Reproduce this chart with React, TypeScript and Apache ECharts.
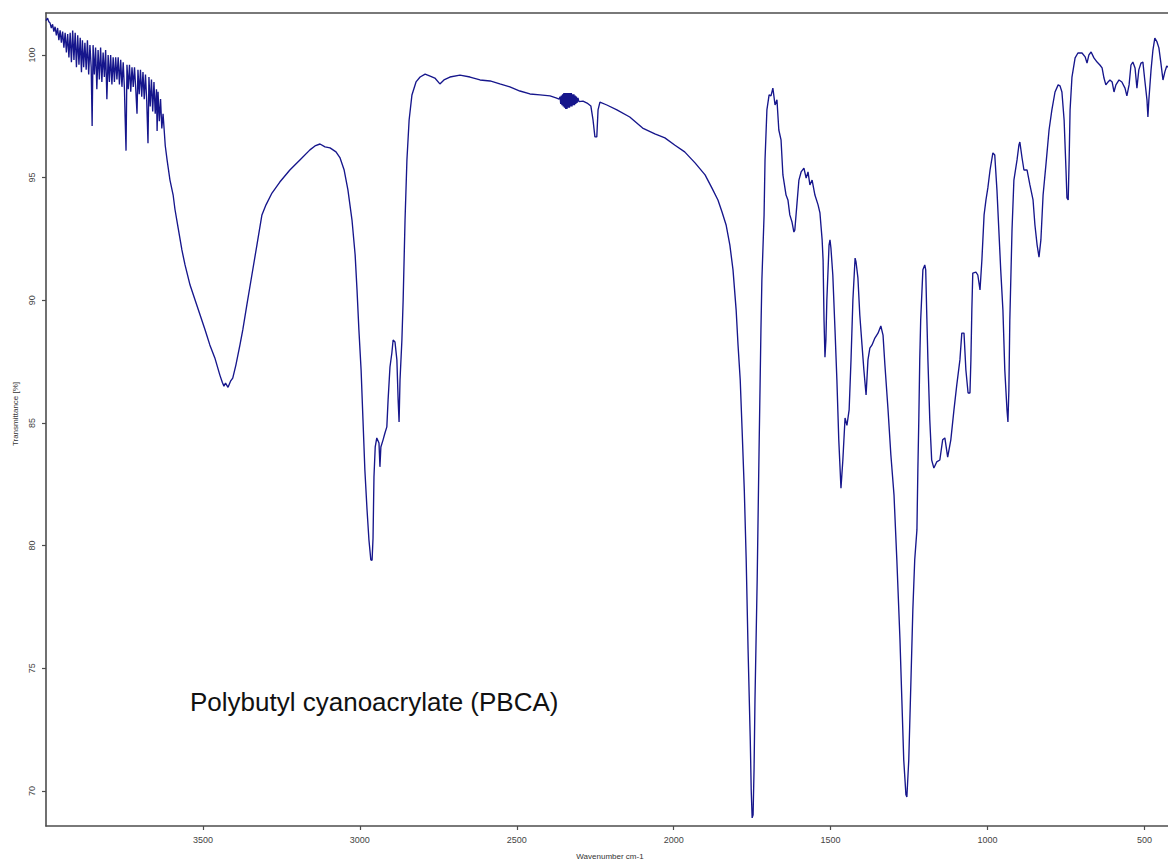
import React, { useEffect, useRef } from "react";
import * as echarts from "echarts";

// [wavenumber (cm-1), transmittance (%)]
const noisyRegion: [number, number][] = [
  [4000, 101.4], [3995, 101.5], [3991, 101.35], [3987, 101.3], [3983, 101.1], [3979, 101.25],
  [3975, 100.95], [3971, 101.15], [3967, 100.8], [3963, 101.1], [3959, 100.6], [3955, 101.0],
  [3951, 100.5], [3947, 100.95], [3943, 100.3], [3939, 100.9], [3935, 100.1], [3931, 100.85],
  [3927, 99.9], [3923, 100.9], [3919, 99.7], [3915, 101.0], [3911, 99.8], [3907, 100.9],
  [3903, 99.5], [3899, 100.8], [3895, 99.6], [3891, 100.7], [3887, 99.3], [3884, 100.6],
  [3880, 99.5], [3876, 100.5], [3872, 99.4], [3868, 100.6], [3864, 99.2], [3860, 100.4],
  [3856, 99.5], [3853, 97.1], [3850, 100.4], [3846, 99.2], [3842, 100.3], [3838, 98.6],
  [3834, 100.2], [3830, 99.0], [3826, 100.3], [3822, 98.9], [3818, 100.1], [3814, 99.1],
  [3810, 100.2], [3806, 98.2], [3802, 100.0], [3798, 98.9], [3794, 100.0], [3790, 98.8],
  [3786, 99.9], [3782, 98.9], [3778, 99.9], [3774, 99.0], [3770, 99.9], [3766, 98.8],
  [3762, 99.8], [3758, 98.7], [3754, 99.7], [3750, 98.6], [3748, 97.5], [3745, 96.1],
  [3742, 99.6], [3738, 98.6], [3734, 99.6], [3730, 98.5], [3726, 99.5], [3722, 98.7],
  [3718, 99.5], [3714, 98.6], [3710, 97.6], [3707, 99.4], [3703, 98.4], [3699, 99.4],
  [3695, 98.3], [3691, 99.3], [3687, 98.2], [3683, 99.2], [3679, 98.1], [3675, 96.4],
  [3672, 99.1], [3668, 97.9], [3664, 99.0], [3660, 97.7], [3656, 98.9], [3652, 97.6],
  [3648, 98.6], [3646, 96.9], [3643, 98.5], [3639, 97.3], [3635, 98.2], [3631, 97.0],
  [3627, 97.6],
];

const ohBand: [number, number][] = [
  [3620, 96.3], [3614, 95.7], [3605, 94.9], [3595, 94.3], [3589, 93.7], [3579, 92.95],
  [3567, 92.05], [3557, 91.44], [3541, 90.62], [3525, 90.01], [3509, 89.4], [3493, 88.79],
  [3478, 88.18], [3462, 87.65], [3446, 86.95], [3438, 86.65], [3433, 86.5], [3428, 86.62],
  [3420, 86.45], [3412, 86.7], [3405, 86.83], [3395, 87.36], [3382, 88.18], [3373, 88.79],
  [3360, 89.81], [3344, 91.03], [3328, 92.25], [3312, 93.48], [3299, 93.89], [3280, 94.37],
  [3255, 94.82], [3223, 95.31], [3191, 95.72], [3159, 96.13], [3143, 96.29], [3127, 96.37],
  [3111, 96.25], [3095, 96.21], [3076, 96.05], [3063, 95.8], [3050, 95.31],
];

const chBand: [number, number][] = [
  [3038, 94.5], [3025, 93.27], [3015, 91.85], [3009, 90.42], [3003, 88.79], [2996, 87.16],
  [2990, 85.12], [2984, 83.08], [2977, 81.44], [2971, 80.23], [2965, 79.42], [2961, 79.4],
  [2958, 80.3], [2955, 82.8], [2951, 84.02], [2946, 84.39], [2939, 84.18], [2936, 83.21],
  [2933, 84.02], [2926, 84.31], [2920, 84.59], [2914, 84.84], [2910, 85.94], [2904, 87.28],
  [2898, 87.85], [2894, 88.38], [2888, 88.3], [2882, 87.57], [2878, 85.94], [2875, 85.04],
  [2872, 86.75], [2866, 88.38], [2862, 90.01], [2856, 93.27], [2850, 95.72], [2843, 97.35],
  [2834, 98.37], [2821, 98.9], [2808, 99.1],
];

const plateau: [number, number][] = [
  [2792, 99.22], [2776, 99.14], [2761, 99.06], [2745, 98.82], [2732, 98.98], [2713, 99.1],
  [2681, 99.18], [2649, 99.1], [2617, 98.98], [2585, 98.94], [2554, 98.82], [2522, 98.7],
  [2490, 98.53], [2458, 98.41], [2426, 98.37], [2394, 98.33], [2375, 98.25], [2365, 98.2],
  [2362, 98.3], [2360, 98.0], [2358, 98.35], [2356, 97.95], [2354, 98.4], [2352, 97.9],
  [2350, 98.45], [2348, 97.85], [2346, 98.45], [2344, 97.8], [2342, 98.45], [2340, 97.8],
  [2338, 98.45], [2336, 97.85], [2334, 98.45], [2332, 97.85], [2330, 98.45], [2328, 97.9],
  [2326, 98.45], [2324, 97.9], [2322, 98.4], [2320, 97.95], [2318, 98.4], [2316, 97.95],
  [2314, 98.35], [2312, 98.0], [2310, 98.3], [2308, 98.05], [2305, 98.25], [2302, 98.1],
  [2289, 98.12], [2276, 98.04], [2264, 97.92], [2257, 97.35], [2251, 96.66], [2245, 96.66],
  [2241, 97.76], [2235, 98.08], [2213, 97.96], [2181, 97.76], [2140, 97.47], [2099, 97.02],
  [2060, 96.78], [2028, 96.62], [1997, 96.33], [1965, 96.05], [1932, 95.6], [1900, 95.11],
  [1878, 94.57], [1859, 94.09], [1846, 93.6], [1833, 93.07], [1821, 92.25], [1811, 91.24],
];

const carbonylBand: [number, number][] = [
  [1801, 89.6], [1795, 88.18], [1788, 86.75], [1782, 84.71], [1775, 82.25], [1769, 79.42],
  [1763, 75.75], [1756, 72.08], [1753, 70.04], [1750, 68.9], [1747, 69.03], [1744, 70.85],
  [1741, 73.71], [1734, 78.6], [1728, 83.9], [1722, 88.79], [1719, 90.83], [1712, 93.48],
  [1709, 95.72], [1703, 97.76], [1696, 98.37], [1690, 98.33], [1684, 98.65], [1677, 97.96],
  [1671, 98.17], [1665, 96.94], [1658, 96.54], [1652, 95.11], [1642, 94.29], [1636, 94.09],
  [1630, 93.48], [1623, 93.19], [1617, 92.78], [1614, 92.87], [1607, 93.97], [1601, 94.9],
  [1594, 95.23], [1585, 95.39], [1578, 94.98], [1572, 95.23], [1566, 94.7], [1559, 94.9],
  [1550, 94.29], [1540, 93.89], [1534, 93.56],
];

const fingerprint: [number, number][] = [
  [1527, 92.46], [1524, 91.64], [1521, 89.2], [1518, 87.68], [1515, 88.38], [1512, 90.01],
  [1505, 92.25], [1502, 92.46], [1499, 92.13], [1493, 91.03], [1486, 88.79], [1480, 86.75],
  [1474, 84.31], [1467, 82.34], [1461, 83.49], [1454, 85.2], [1448, 84.9], [1441, 85.53],
  [1435, 87.57], [1429, 90.01], [1422, 91.72], [1419, 91.56], [1413, 90.91], [1407, 89.4],
  [1400, 88.18], [1394, 87.16], [1387, 86.14], [1381, 87.57], [1375, 88.05], [1368, 88.18],
  [1359, 88.46], [1349, 88.66], [1340, 88.95], [1333, 88.58], [1327, 87.36], [1317, 85.53],
  [1308, 83.69], [1298, 82.06], [1289, 79.42], [1279, 76.15], [1273, 73.71], [1267, 71.26],
  [1260, 69.84], [1257, 69.75], [1251, 71.26], [1244, 74.52], [1238, 77.38], [1232, 79.42],
  [1225, 80.64], [1222, 83.08], [1219, 85.12], [1216, 87.57], [1213, 89.2], [1206, 91.24],
  [1200, 91.44], [1197, 91.24], [1194, 89.6], [1190, 87.57], [1184, 85.12], [1178, 83.49],
  [1171, 83.16], [1162, 83.41], [1152, 83.49], [1143, 84.31], [1136, 84.39], [1127, 83.61],
  [1117, 84.31], [1107, 85.53], [1098, 86.55], [1088, 87.57], [1082, 88.66], [1075, 88.66],
  [1069, 87.16], [1062, 86.22], [1056, 86.22], [1053, 87.57], [1050, 89.6], [1047, 91.11],
  [1037, 91.15], [1031, 91.03], [1024, 90.42], [1018, 91.64], [1011, 93.48], [1005, 94.09],
  [999, 94.58], [992, 95.31], [983, 96.01], [977, 95.92], [970, 94.49], [964, 92.87],
  [958, 91.24], [951, 89.6], [945, 87.16], [938, 85.53], [935, 85.04], [932, 86.34],
  [929, 89.2], [922, 92.87], [916, 94.9], [906, 95.72], [900, 96.33], [897, 96.45],
  [890, 95.8], [884, 95.31], [874, 95.31], [865, 94.7], [855, 94.09], [849, 93.07],
  [842, 92.25], [836, 91.76], [830, 92.46], [823, 94.29], [814, 95.52], [804, 96.94],
  [795, 97.76], [785, 98.49], [775, 98.78], [769, 98.74], [763, 98.49], [756, 97.35],
  [750, 95.31], [747, 94.17], [743, 94.09], [740, 95.72], [737, 97.76], [731, 99.1],
  [721, 99.88], [712, 100.08], [699, 100.08], [689, 99.92], [683, 99.67], [677, 100.0],
  [670, 100.12], [661, 99.88], [651, 99.71], [642, 99.59], [635, 99.47], [629, 99.06],
  [623, 98.78], [616, 98.9], [610, 98.98], [603, 98.9], [597, 98.49], [591, 98.78],
  [581, 98.98], [572, 98.9], [562, 98.65], [556, 98.33], [549, 98.78], [543, 99.59],
  [537, 99.71], [530, 99.47], [524, 98.65], [518, 99.39], [511, 99.67], [505, 99.71],
  [499, 98.98], [492, 98.17], [489, 97.47], [486, 98.17], [479, 99.39], [473, 100.2],
  [467, 100.69], [460, 100.53], [454, 100.29], [448, 99.71], [441, 98.98], [435, 99.31],
  [429, 99.55], [425, 99.5],
];

const xTicks = [500, 1000, 1500, 2000, 2500, 3000, 3500];
const yTicks = [70, 75, 80, 85, 90, 95, 100];

const xTitle = "Wavenumber cm-1";
const yTitle = "Transmittance [%]";
const annotation = "Polybutyl cyanoacrylate (PBCA)";

const spectrum = [
  ...noisyRegion,
  ...ohBand,
  ...chBand,
  ...plateau,
  ...carbonylBand,
  ...fingerprint,
];

const FONT = "'Liberation Sans', Arial, sans-serif";
const AXIS_COLOR = "#4d4d4d";

export default function App() {
  const ref = useRef<HTMLDivElement>(null);

  useEffect(() => {
    if (!ref.current) return;
    const chart = echarts.init(ref.current, null, { renderer: "svg" });
    chart.setOption({
      animation: false,
      backgroundColor: "#ffffff",
      grid: { left: 46, top: 13, right: 0, bottom: 37, containLabel: false },
      xAxis: [
        {
          type: "value",
          inverse: true,
          min: 425,
          max: 4000,
          position: "bottom",
          axisLine: { show: true, lineStyle: { color: AXIS_COLOR, width: 1.6 } },
          axisTick: {
            show: true,
            length: 4,
            customValues: xTicks,
            lineStyle: { color: AXIS_COLOR, width: 1.2 },
          },
          axisLabel: {
            show: true,
            customValues: xTicks,
            formatter: (v: number) => String(v),
            fontSize: 9,
            fontFamily: FONT,
            color: "#444",
            margin: 9,
          },
          splitLine: { show: false },
        },
        {
          type: "value",
          inverse: true,
          min: 425,
          max: 4000,
          position: "top",
          axisLine: { show: true, lineStyle: { color: AXIS_COLOR, width: 1.6 } },
          axisTick: { show: false },
          axisLabel: { show: false },
          splitLine: { show: false },
        },
      ],
      yAxis: {
        type: "value",
        min: 68.57,
        max: 101.71,
        axisLine: { show: true, lineStyle: { color: AXIS_COLOR, width: 1.6 } },
        axisTick: {
          show: true,
          length: 4,
          customValues: yTicks,
          lineStyle: { color: AXIS_COLOR, width: 1.2 },
        },
        axisLabel: {
          show: true,
          customValues: yTicks,
          formatter: (v: number) => String(v),
          rotate: 90,
          fontSize: 9,
          fontFamily: FONT,
          color: "#444",
          margin: 10,
        },
        splitLine: { show: false },
      },
      series: [
        {
          type: "line",
          xAxisIndex: 0,
          data: spectrum,
          showSymbol: false,
          symbol: "none",
          lineStyle: { color: "#16168c", width: 1.35 },
          emphasis: { disabled: true },
          silent: true,
        },
      ],
      graphic: [
        {
          type: "text",
          x: 15,
          y: 414,
          rotation: Math.PI / 2,
          style: {
            text: yTitle,
            fontSize: 8,
            fontFamily: FONT,
            fill: "#333",
            align: "center",
            verticalAlign: "middle",
          },
        },
        {
          type: "text",
          x: 610,
          y: 856,
          style: {
            text: xTitle,
            fontSize: 8,
            fontFamily: FONT,
            fill: "#333",
            align: "center",
            verticalAlign: "middle",
          },
        },
        {
          type: "text",
          x: 190,
          y: 702,
          style: {
            text: annotation,
            fontSize: 26,
            fontFamily: FONT,
            fill: "#111",
            align: "left",
            verticalAlign: "middle",
          },
        },
      ],
    });
    return () => chart.dispose();
  }, []);

  return (
    <div
      ref={ref}
      style={{ position: "absolute", left: 0, top: 0, width: 1168, height: 863 }}
    />
  );
}
